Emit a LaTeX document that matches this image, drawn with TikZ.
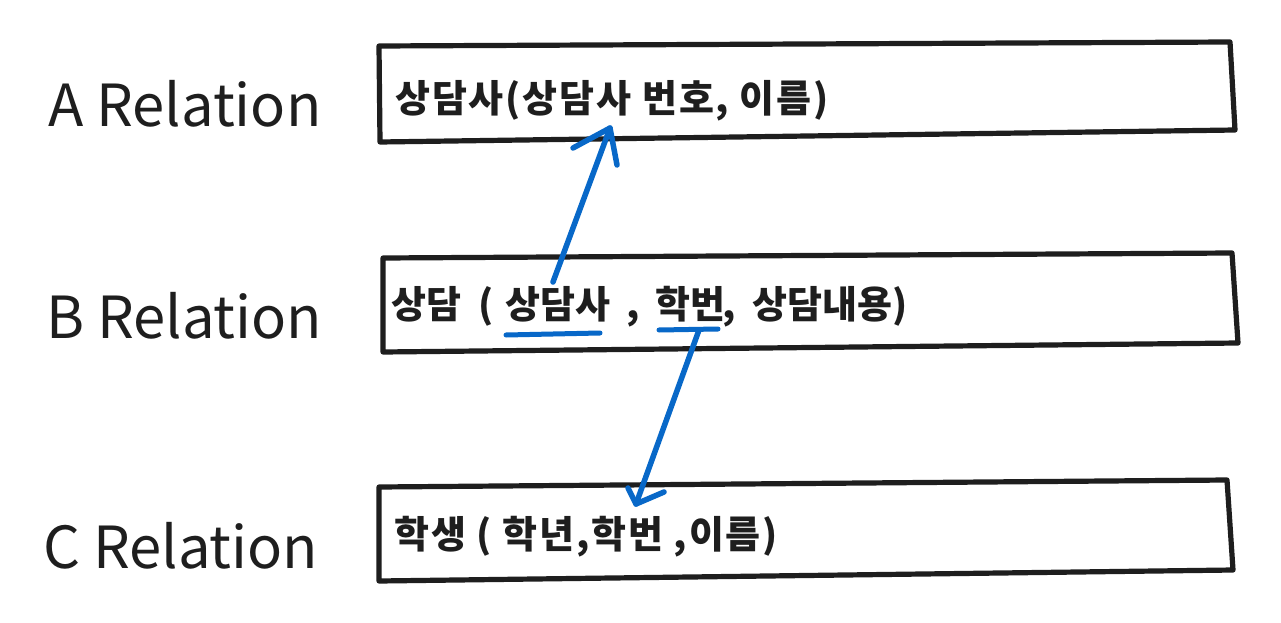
\documentclass[tikz,border=0pt]{standalone}
\usepackage{fontspec}
\setmainfont{Noto Sans CJK KR}
\newfontfamily\kr{Noto Sans CJK KR}
\definecolor{ink}{HTML}{1E1E1E}
\definecolor{pen}{HTML}{0868C8}
\begin{document}
\begin{tikzpicture}[x=1pt,y=-1pt,
  relbox/.style={draw=ink,line width=5.2pt,line join=round,line cap=round},
  rellabel/.style={anchor=west,inner sep=0pt,text=ink,font=\fontsize{58}{62}\selectfont},
  reltext/.style={anchor=base west,inner sep=0pt,text=ink,font=\kr\bfseries\fontsize{38}{40}\selectfont},
  link/.style={draw=pen,line width=5.5pt,line cap=round,line join=round},
  uline/.style={draw=pen,line width=5pt,line cap=round}]
\useasboundingbox (0,0) rectangle (1281,623);
\fill[white] (0,0) rectangle (1281,623);
% boxes
\draw[relbox] (379,46) -- (1230,42) -- (1235,130) -- (380,142) -- cycle;
\draw[relbox] (383,258) -- (1232,253) -- (1238,343) -- (383,352) -- cycle;
\draw[relbox] (379,487) -- (1227,480) -- (1233,570) -- (379,581) -- cycle;
% labels
\node[rellabel] (la) at (48,104) {A Relation};
\node[rellabel] (lb) at (46,316) {B Relation};
\node[rellabel] (lc) at (43,546) {C Relation};
% A text
\node[reltext,font=\kr\bfseries\fontsize{38}{40}\selectfont\addfontfeature{LetterSpace=5}] (ta) at (395,113) {상담사(상담사 번호, 이름)};
% B text, word by word
\node[reltext] (b0) at (391,318) {상담\hspace{0.45em}(};
\node[reltext] (b1) at (505,318) {상담사};
\node[reltext] (b2) at (626,318) {,};
\node[reltext] (b3) at (655,318) {학번};
\node[reltext] (b4) at (722,318) {,};
\node[reltext] (b5) at (752,318) {상담내용)};
% C text
\node[reltext,font=\kr\bfseries\fontsize{38}{40}\selectfont\addfontfeature{LetterSpace=5}] (tc) at (394,548) {학생 ( 학년,학번 ,이름)};
% underlines
\coordinate (u1a) at (506,335);
\coordinate (u1b) at (600,333);
\coordinate (u2a) at (659,330);
\coordinate (u2b) at (718,329);
\draw[uline] (u1a) -- (u1b);
\draw[uline] (u2a) -- (u2b);
% arrows
\coordinate (s1) at (553,282);
\coordinate (e1) at (610,128);
\coordinate (s2) at (699,330);
\coordinate (e2) at (636,504);
\draw[link] (s1) -- (e1);
\draw[link] (573,148) -- (e1) -- (617,165);
\draw[link] (s2) -- (e2);
\draw[link] (628,488) -- (e2) -- (664,492);
\end{tikzpicture}
\end{document}
